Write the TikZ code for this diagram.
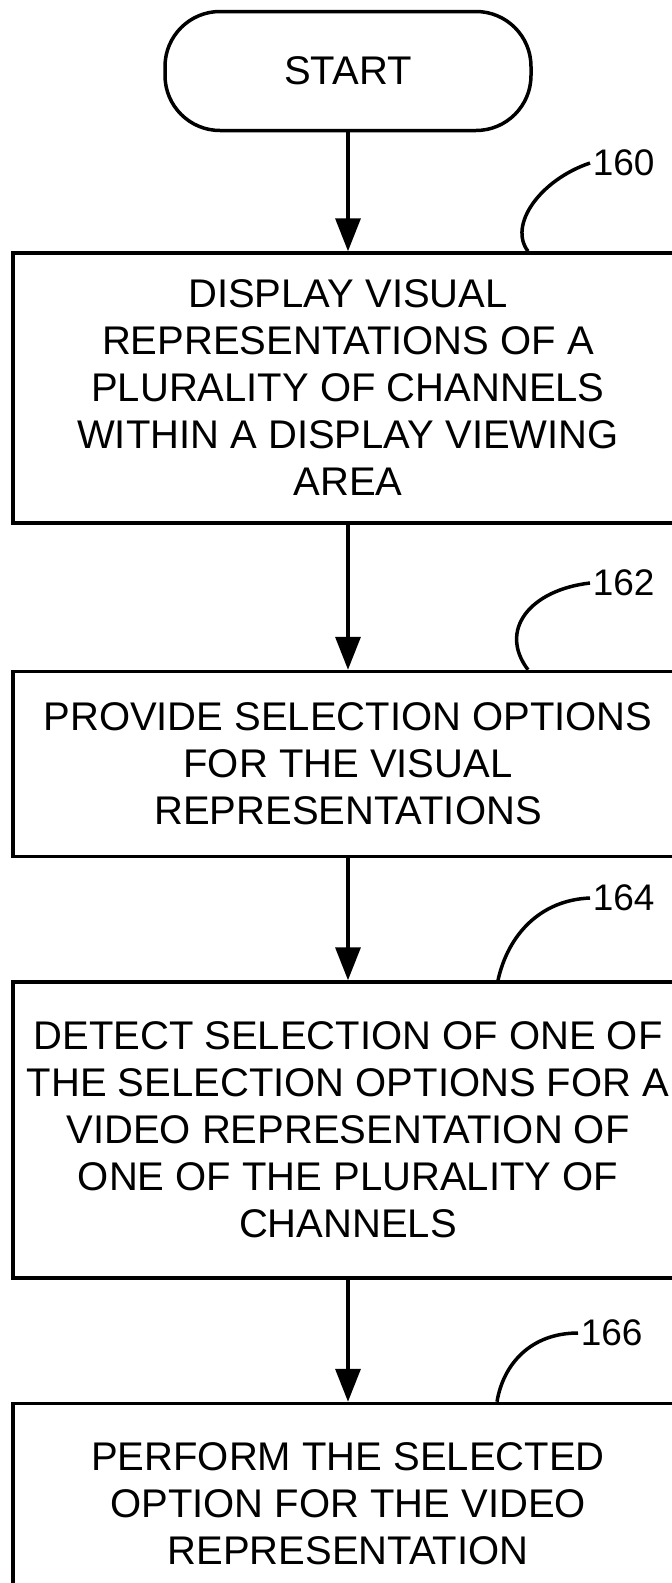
\documentclass[tikz,border=0pt]{standalone}
\usepackage{fontspec}
\setmainfont{Liberation Sans}
\usetikzlibrary{arrows.meta}
\usetikzlibrary{positioning}

\begin{document}
\begin{tikzpicture}[x=1pt,y=-1pt,>={Triangle[length=33pt,width=25pt]},
  line width=3.5pt,node distance=119pt,
  start node/.style={rectangle,draw,rounded corners=55pt,minimum width=366pt,
    minimum height=119pt,font=\fontsize{40}{47}\selectfont},
  flow box/.style={rectangle,draw,minimum width=670pt,inner sep=0pt,align=center,
    font=\fontsize{40}{47}\selectfont},
  ref label/.style={anchor=west,inner sep=1pt,font=\fontsize{37}{44}\selectfont}]

  \useasboundingbox (0,0) rectangle (672,1583);
  \clip (0,0) rectangle (672,1583);

  \node[start node] (start) at (348,71) {START};
  \node[flow box,minimum height=270pt] (b1) [below=119pt of start]
    {DISPLAY VISUAL\\REPRESENTATIONS OF A\\PLURALITY OF CHANNELS\\WITHIN A DISPLAY VIEWING\\AREA};
  \node[flow box,minimum height=185pt] (b2) [below=145pt of b1]
    {PROVIDE SELECTION OPTIONS\\FOR THE VISUAL\\REPRESENTATIONS};
  \node[flow box,minimum height=296pt] (b3) [below=122pt of b2]
    {DETECT SELECTION OF ONE OF\\THE SELECTION OPTIONS FOR A\\VIDEO REPRESENTATION OF\\ONE OF THE PLURALITY OF\\CHANNELS};
  \node[flow box,minimum height=200pt] (b4) [below=122pt of b3]
    {PERFORM THE SELECTED\\OPTION FOR THE VIDEO\\REPRESENTATION};

  % flow
  \draw[->] (start) -- (b1);
  \draw[->] (b1) -- (b2);
  \draw[->] (b2) -- (b3);
  \draw[->] (b3) -- (b4);

  % reference numerals
  \node[ref label] (l160) at (590,163) {160};
  \node[ref label] (l162) at (590,583) {162};
  \node[ref label] (l164) at (590,898) {164};
  \node[ref label] (l166) at (578,1333) {166};

  \draw (l160.west) .. controls (540,180) and (508,225) .. ([xshift=180pt]b1.north);
  \draw (l162.west) .. controls (530,590) and (498,630) .. ([xshift=180pt]b2.north);
  \draw (l164.west) .. controls (540,900) and (508,935) .. ([xshift=150pt]b3.north);
  \draw (l166.west) .. controls (530,1333) and (503,1365) .. ([xshift=149pt]b4.north);
\end{tikzpicture}
\end{document}
